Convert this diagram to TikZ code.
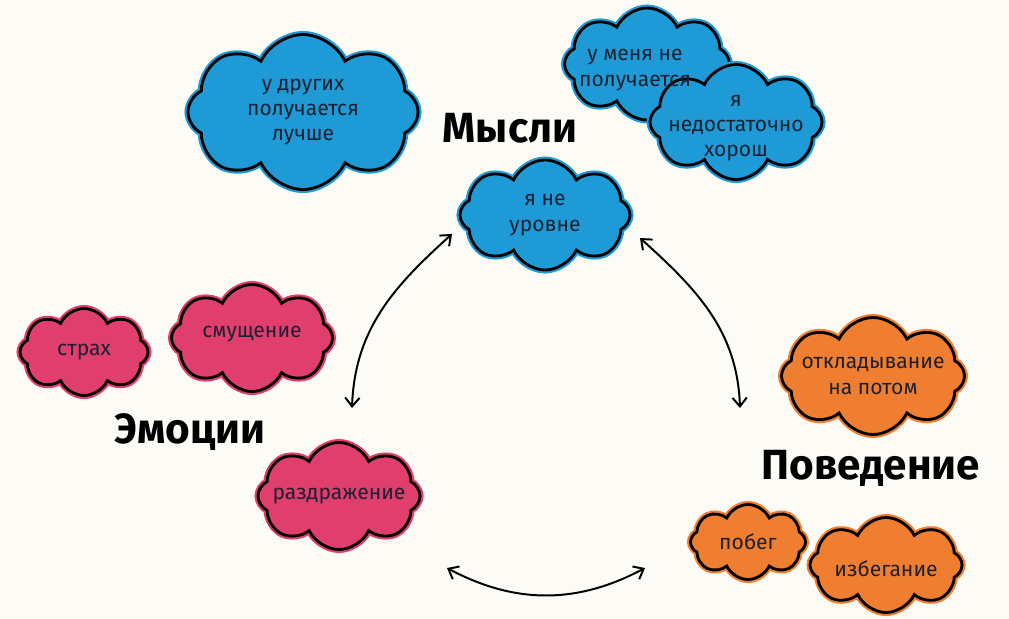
\documentclass[tikz,border=0pt]{standalone}
\usepackage{fontspec}
\setmainfont{Fira Sans}
\usepackage{tikz}
\usetikzlibrary{shapes.symbols, arrows.meta, positioning}
\definecolor{paper}{RGB}{252,251,245}
\definecolor{thinkblue}{RGB}{30,154,214}
\definecolor{feelpink}{RGB}{224,62,108}
\definecolor{actorange}{RGB}{239,126,48}
\definecolor{ink}{RGB}{28,32,48}
\tikzstyle{cloudbase} = [cloud, cloud puffs=8, cloud puff arc=130, cloud ignores aspect, inner sep=0pt, draw=black, line width=2pt]
\tikzstyle{thought} = [cloudbase, fill=thinkblue, preaction={draw=thinkblue, line width=5pt}]
\tikzstyle{feeling} = [cloudbase, fill=feelpink, preaction={draw=feelpink, line width=5pt}]
\tikzstyle{action} = [cloudbase, fill=actorange, preaction={draw=actorange, line width=5pt}]
\tikzstyle{ctext} = [font=\fontsize{15}{18}\selectfont, text=ink, align=center, inner sep=0pt]
\tikzstyle{heading} = [font=\fontsize{30}{34}\selectfont\bfseries, text=black]
\tikzstyle{arrow} = [line width=1.4pt, <->, >={Straight Barb[length=2.2mm,width=3.6mm]}]

\begin{document}
\begin{tikzpicture}[x=0.025cm, y=-0.025cm]
        \useasboundingbox[fill=paper] (0,0) rectangle (1009,619);

        % Thoughts
        \node (mthought) [heading] at (510,128) {Мысли};
        \node (cothers) [thought, minimum width=5.75cm, minimum height=3.875cm, label={[ctext]center:у других\\получается\\лучше}] at (303,112) {};
        \node (cfail) [thought, minimum width=4.125cm, minimum height=2.8cm] at (647,64) {};
        \node (cgood) [thought, minimum width=4.3cm, minimum height=2.875cm, label={[ctext, yshift=-0.15cm]center:я\\недостаточно\\хорош}] at (736,122) {};
        \node (tfail) [ctext, xshift=-0.3cm, yshift=-0.15cm] at (cfail) {у меня не\\получается};
        \node (clevel) [thought, minimum width=4.25cm, minimum height=2.75cm, label={[ctext]center:я не\\уровне}] at (545,215) {};

        % Emotions
        \node (memotion) [heading] at (190,432) {Эмоции};
        \node (cfear) [feeling, minimum width=3.2cm, minimum height=2.175cm, label={[ctext]center:страх}] at (84,352) {};
        \node (cshame) [feeling, minimum width=4.025cm, minimum height=2.675cm, label={[ctext, yshift=0.1cm]center:смущение}] at (252,338) {};
        \node (cirrit) [feeling, minimum width=4.05cm, minimum height=2.675cm, label={[ctext]center:раздражение}] at (339,496) {};

        % Behaviour
        \node (mbehave) [heading] at (871,468) {Поведение};
        \node (cdelay) [action, minimum width=4.575cm, minimum height=2.925cm, label={[ctext]center:откладывание\\на потом}] at (873,376) {};
        \node (cescape) [action, minimum width=2.875cm, minimum height=1.875cm, label={[ctext]center:побег}] at (748,542) {};
        \node (cavoid) [action, minimum width=3.8cm, minimum height=2.375cm, label={[ctext, yshift=-0.1cm]center:избегание}] at (886,565) {};

        % Arrow ends
        \coordinate (etop) at (352,408);
        \coordinate (tleft) at (452,234);
        \coordinate (tright) at (640,238);
        \coordinate (btop) at (740,408);
        \coordinate (eright) at (447,568);
        \coordinate (bleft) at (645,568);

        % Arrows
        \draw [arrow] (etop) to[out=88, in=-138] (tleft);
        \draw [arrow] (tright) to[out=-42, in=92] (btop);
        \draw [arrow] (eright) to[out=-28, in=-152] (bleft);
    \end{tikzpicture}
\end{document}
